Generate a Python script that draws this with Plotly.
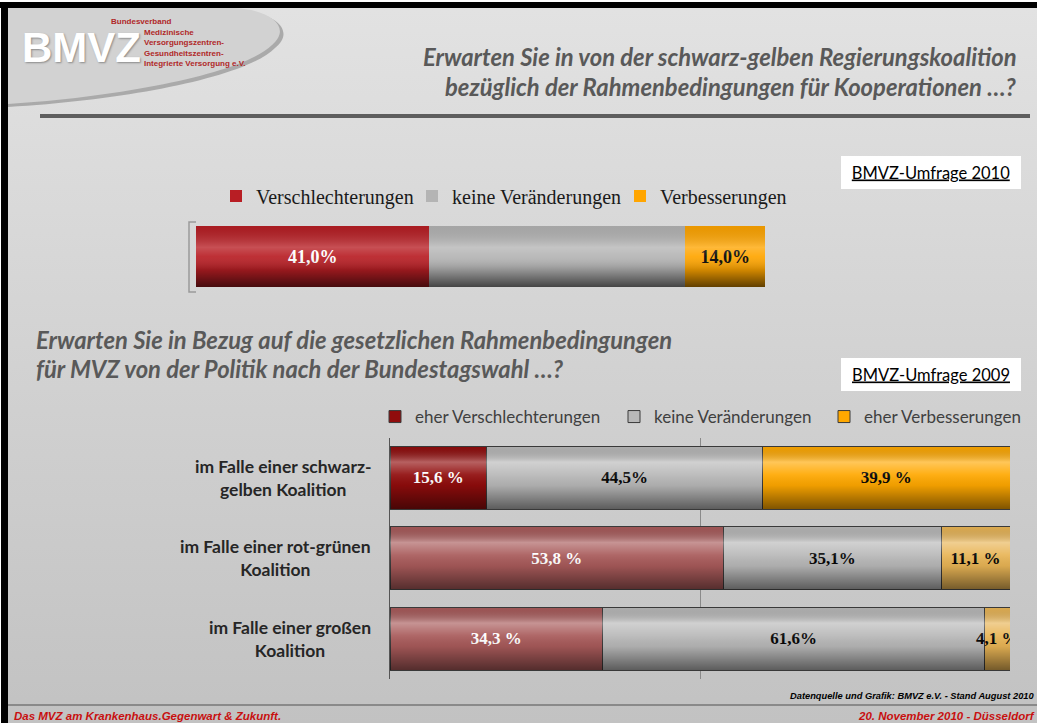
import base64
import plotly.graph_objects as go

W, H = 1037, 723

# ---------------- data ----------------
top_category = ["BMVZ-Umfrage 2010"]
top_series = ["Verschlechterungen", "keine Veränderungen", "Verbesserungen"]
top_values = [[41.0], [45.0], [14.0]]
top_labels = [["41,0%"], [""], ["14,0%"]]

categories = [
    "im Falle einer schwarz-gelben Koalition",
    "im Falle einer rot-grünen Koalition",
    "im Falle einer großen Koalition",
]
category_labels = [
    "im Falle einer schwarz-<br>gelben Koalition",
    "im Falle einer rot-grünen<br>Koalition",
    "im Falle einer großen<br>Koalition",
]
series = ["eher Verschlechterungen", "keine Veränderungen", "eher Verbesserungen"]
verschlechterungen = [15.6, 53.8, 34.3]
keine_veraenderungen = [44.5, 35.1, 61.6]
verbesserungen = [39.9, 11.1, 4.1]
labels_verschlechterungen = ["15,6 %", "53,8 %", "34,3 %"]
labels_keine = ["44,5%", "35,1%", "61,6%"]
labels_verbesserungen = ["39,9 %", "11,1 %", "4,1 %"]
x_ticks = [0, 50, 100]


# ---------------- helpers ----------------
def px(x):
    return x / W


def py(y):
    return 1 - y / H


def P(x, y):
    return f"{px(x):.5f},{py(y):.5f}"


def grad(stops):
    s = "".join(
        f'<stop offset="{o}" stop-color="{c}" stop-opacity="{a}"/>' for o, c, a in stops
    )
    svg = (
        '<svg xmlns="http://www.w3.org/2000/svg" viewBox="0 0 10 10" width="10" height="10" '
        'preserveAspectRatio="none"><defs><linearGradient id="g" x1="0" y1="0" x2="0" y2="1">'
        f'{s}</linearGradient></defs><rect x="0" y="0" width="10" height="10" fill="url(#g)"/></svg>'
    )
    return "data:image/svg+xml;base64," + base64.b64encode(svg.encode()).decode()


SERIF = "Liberation Serif, DejaVu Serif, serif"
SANS = "Lato, Open Sans, sans-serif"
NARROW = "Liberation Sans Narrow, Liberation Sans, sans-serif"

fig = go.Figure()

# ---------------- top chart (2010) ----------------
top_colors = ["#b81e24", "#b4b4b4", "#ffa500"]
top_text_colors = ["white", "black", "black"]
top_lw = [151, 163, 135]
for name, vals, labs, col, tcol, lw in zip(top_series, top_values, top_labels, top_colors, top_text_colors, top_lw):
    fig.add_trace(go.Bar(
        name=name, y=top_category, x=vals, orientation="h", text=labs,
        textposition="inside", insidetextanchor="middle", constraintext="none", textangle=0,
        textfont=dict(family=SERIF, size=18, color=tcol, weight="bold"),
        marker=dict(color=col, line=dict(width=0)), width=1.0,
        xaxis="x", yaxis="y", legend="legend", legendwidth=lw, hoverinfo="skip",
    ))

# ---------------- bottom chart (2009) ----------------
red_cols = ["#900c0c", "#a85a5a", "#a85a5a"]
gray_cols = ["#b8b8b8", "#b8b8b8", "#b8b8b8"]
orange_cols = ["#ffa800", "#e8b455", "#e8b455"]
bottom = [
    (series[0], verschlechterungen, labels_verschlechterungen, red_cols, "white", 194),
    (series[1], keine_veraenderungen, labels_keine, gray_cols, "black", 165),
    (series[2], verbesserungen, labels_verbesserungen, orange_cols, "black", 160),
]
for name, vals, labs, cols, tcol, lw in bottom:
    fig.add_trace(go.Bar(
        name=name, y=categories, x=vals, orientation="h", text=labs,
        textposition="inside", insidetextanchor="middle", constraintext="none", textangle=0,
        textfont=dict(family=SERIF, size=17, color=tcol, weight="bold"),
        marker=dict(color=cols, line=dict(color="#3a3a3a", width=1)), width=0.78,
        xaxis="x2", yaxis="y2", legend="legend2", legendwidth=lw, hoverinfo="skip",
    ))

# ---------------- images (background + gloss) ----------------
bg = grad([(0, "#e2e2e2", 1), (1, "#c2c2c2", 1)])
gloss_top = grad([(0, "#000000", 0.08), (0.35, "#ffffff", 0.22), (0.5, "#ffffff", 0.08),
                  (0.72, "#000000", 0.18), (1, "#000000", 0.62)])
gloss = grad([(0, "#000000", 0.05), (0.25, "#ffffff", 0.35), (0.45, "#ffffff", 0.08),
              (0.62, "#000000", 0.06), (1, "#000000", 0.5)])
images = [dict(source=bg, xref="paper", yref="paper", x=px(8), y=py(8), sizex=1 - px(8),
               sizey=py(8), xanchor="left", yanchor="top", sizing="stretch", layer="below")]
images.append(dict(source=gloss_top, xref="x", yref="y", x=0, y=top_category[0],
                   sizex=sum(v[0] for v in top_values), sizey=1.0, xanchor="left",
                   yanchor="middle", sizing="stretch", layer="above"))
for i, c in enumerate(categories):
    tot = verschlechterungen[i] + keine_veraenderungen[i] + verbesserungen[i]
    images.append(dict(source=gloss, xref="x2", yref="y2", x=0, y=c, sizex=tot, sizey=0.78,
                       xanchor="left", yanchor="middle", sizing="stretch", layer="above"))

# ---------------- shapes ----------------
logo = (f"M{P(8,8)} L{P(235,8)} C{P(272,10)} {P(292,28)} {P(272,45)} "
        f"C{P(245,72)} {P(130,96)} {P(8,104)} Z")
logo_sh = (f"M{P(8,10)} L{P(238,10)} C{P(276,13)} {P(296,31)} {P(275,48)} "
           f"C{P(248,76)} {P(132,100)} {P(8,107)} Z")
shapes = [
    dict(type="path", path=logo_sh, xref="paper", yref="paper", fillcolor="#9c9c9c",
         line=dict(width=0), opacity=0.8, layer="below"),
    dict(type="path", path=logo, xref="paper", yref="paper", fillcolor="#d2d2d2",
         line=dict(width=0), layer="below"),
    dict(type="line", xref="paper", yref="paper", x0=px(40), x1=px(1030), y0=py(116), y1=py(116),
         line=dict(color="#5e5e5e", width=4)),
    dict(type="path", xref="paper", yref="paper",
         path=f"M{P(196,222)} L{P(189,222)} L{P(189,292)} L{P(196,292)}",
         line=dict(color="#9a9a9a", width=1.5)),
    dict(type="line", xref="paper", yref="paper", x0=px(8), x1=1, y0=py(705), y1=py(705),
         line=dict(color="#8a8a8a", width=2)),
    dict(type="rect", xref="paper", yref="paper", x0=0, x1=1, y0=py(8), y1=py(2),
         fillcolor="black", line=dict(width=0)),
    dict(type="rect", xref="paper", yref="paper", x0=px(1), x1=px(8), y0=0, y1=py(2),
         fillcolor="black", line=dict(width=0)),
]

# ---------------- annotations ----------------
ann = []
ann.append(dict(text="BMVZ", xref="paper", yref="paper", x=px(20), y=py(48), xanchor="left",
                yanchor="middle", showarrow=False,
                font=dict(family=NARROW, size=42, color="white", weight="bold",
                          shadow="1px 1px 2px #8a8a8a")))
ann.append(dict(text="Bundesverband", xref="paper", yref="paper", x=px(109), y=py(21.5),
                xanchor="left", yanchor="middle", showarrow=False,
                font=dict(family=NARROW, size=8, color="#b02828", weight="bold")))
ann.append(dict(text="Medizinische<br>Versorgungszentren-<br>Gesundheitszentren-<br>Integrierte Versorgung e.V.",
                xref="paper", yref="paper", x=px(142), y=py(48.5), xanchor="left", align="left",
                yanchor="middle", showarrow=False,
                font=dict(family=NARROW, size=8, color="#b02828", weight="bold")))
title_font = dict(family=SANS, size=23.8, color="#595959", weight="bold", style="italic")
ann.append(dict(text="Erwarten Sie in von der schwarz-gelben Regierungskoalition",
                xref="paper", yref="paper", x=px(1019), y=py(57), xanchor="right",
                yanchor="middle", showarrow=False, font=title_font))
ann.append(dict(text="bezüglich der Rahmenbedingungen für Kooperationen …?",
                xref="paper", yref="paper", x=px(1019), y=py(87), xanchor="right",
                yanchor="middle", showarrow=False, font=title_font))
ann.append(dict(text="Erwarten Sie in Bezug auf die gesetzlichen Rahmenbedingungen",
                xref="paper", yref="paper", x=px(34), y=py(340), xanchor="left",
                yanchor="middle", showarrow=False, font=title_font))
ann.append(dict(text="für MVZ von der Politik nach der Bundestagswahl …?",
                xref="paper", yref="paper", x=px(34), y=py(369), xanchor="left",
                yanchor="middle", showarrow=False, font=title_font))
for t, yc in [("BMVZ-Umfrage 2010", 172.5), ("BMVZ-Umfrage 2009", 374.5)]:
    ann.append(dict(text=t, xref="paper", yref="paper", x=px(931), y=py(yc), xanchor="center",
                    yanchor="middle", showarrow=False, bgcolor="white", borderwidth=0,
                    borderpad=0, width=180, height=33,
                    font=dict(family=SANS, size=16.5, color="black", lineposition="under")))
for c, lab in zip(categories, category_labels):
    ann.append(dict(text=lab, xref="paper", yref="y2", x=px(373), y=c, xanchor="right",
                    yanchor="middle", align="center", showarrow=False,
                    font=dict(family=SANS, size=17.5, color="#262626", weight="bold")))
ann.append(dict(text="Datenquelle und Grafik: BMVZ e.V. - Stand August 2010",
                xref="paper", yref="paper", x=px(1036), y=py(703), xanchor="right",
                yanchor="bottom", showarrow=False,
                font=dict(family=NARROW, size=9.3, color="black", weight="bold", style="italic")))
ann.append(dict(text="Das MVZ am Krankenhaus.Gegenwart &amp; Zukunft.",
                xref="paper", yref="paper", x=px(13), y=py(722.5), xanchor="left",
                yanchor="bottom", showarrow=False, borderpad=0,
                font=dict(family=NARROW, size=11.5, color="#c81010", weight="bold", style="italic")))
ann.append(dict(text="20. November 2010 - Düsseldorf",
                xref="paper", yref="paper", x=px(1036), y=py(722.5), xanchor="right",
                yanchor="bottom", showarrow=False, borderpad=0,
                font=dict(family=NARROW, size=11.5, color="#c81010", weight="bold", style="italic")))

fig.update_layout(
    width=W, height=H, margin=dict(l=0, r=0, t=0, b=0), autosize=False,
    paper_bgcolor="white", plot_bgcolor="rgba(0,0,0,0)",
    barmode="stack", hovermode=False, showlegend=True,
    xaxis=dict(domain=[px(196), px(765)], range=[0, 100], visible=False, anchor="y", fixedrange=True),
    yaxis=dict(domain=[py(287), py(226)], range=[-0.5, 0.5], visible=False, anchor="x",
               type="category", fixedrange=True),
    xaxis2=dict(domain=[px(390), px(1010)], range=[0, 100], tickvals=x_ticks, showticklabels=False,
                showgrid=True, gridcolor="#8a8a8a", gridwidth=1, zeroline=False, ticks="",
                showline=False, anchor="y2", fixedrange=True),
    yaxis2=dict(domain=[py(679), py(437.5)], range=[2.5, -0.5], type="category",
                categoryorder="array", categoryarray=categories, showticklabels=False,
                showline=True, linecolor="#555555", linewidth=1, showgrid=False, ticks="",
                anchor="x2", fixedrange=True),
    legend=dict(orientation="h", x=px(216), xanchor="left", y=py(196), yanchor="middle",
                font=dict(family=SERIF, size=20, color="#1a1a1a"), bgcolor="rgba(0,0,0,0)",
                traceorder="normal", itemclick=False, itemdoubleclick=False),
    legend2=dict(orientation="h", x=px(375), xanchor="left", y=py(417), yanchor="middle",
                 font=dict(family=SANS, size=17, color="#404040"), bgcolor="rgba(0,0,0,0)",
                 traceorder="normal", itemclick=False, itemdoubleclick=False),
    images=images, shapes=shapes, annotations=ann,
)

fig.write_html("out.html", config=dict(displayModeBar=False, staticPlot=True),
               post_script="document.body.style.margin='0';document.body.style.overflow='hidden';")
